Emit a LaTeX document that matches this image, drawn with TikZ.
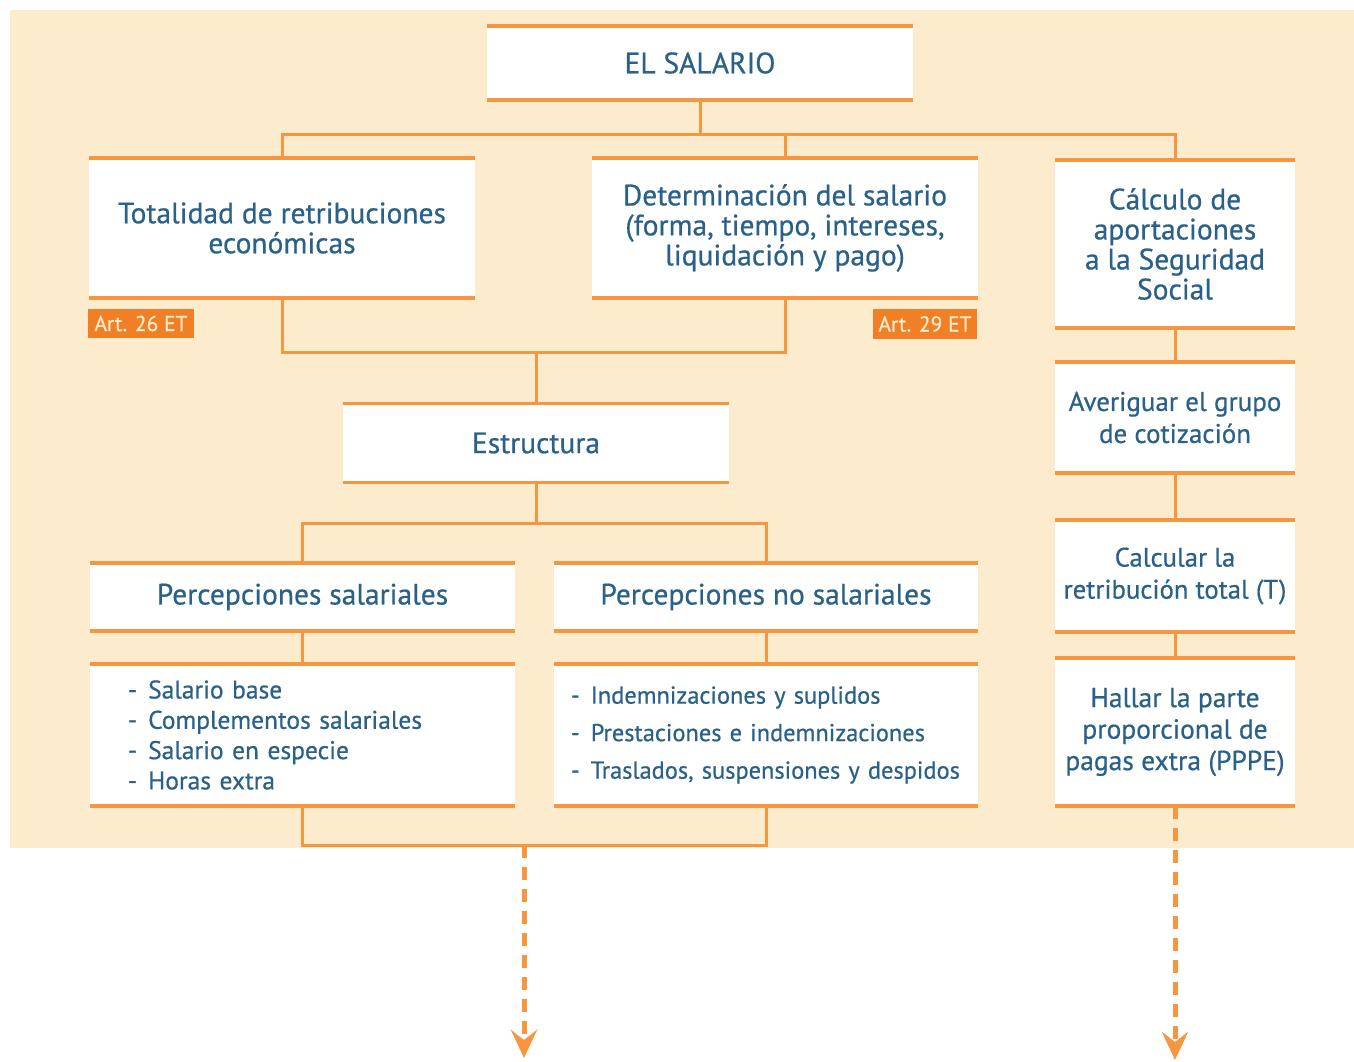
\documentclass[tikz,border=0pt]{standalone}
\usepackage{fontspec}
\setmainfont{PT Sans}[FakeBold=0.6]
\usetikzlibrary{arrows.meta}
\definecolor{bgc}{HTML}{FDEBCD}
\definecolor{org}{HTML}{F7963F}
\definecolor{lblc}{HTML}{F07F25}
\definecolor{txt}{HTML}{2A6189}
\begin{document}
\begin{tikzpicture}[x=1pt,y=-1pt,
  bx/.style={fill=white,inner sep=0pt,align=center,text=txt,font=\fontsize{29.5}{30}\selectfont},
  lst/.style={fill=white,inner ysep=0pt,align=left,text=txt},
  lbl/.style={fill=lblc,text=bgc,inner sep=0pt,font=\fontsize{21.5}{22}\selectfont},
  conn/.style={draw=org,line width=3pt},
  bline/.style={draw=org,line width=3.5pt},
  darr/.style={draw=org,line width=5pt,dash pattern=on 13pt off 9pt,-{Stealth[length=28pt,width=26pt,inset=10pt]}}]
\useasboundingbox (0,0) rectangle (1354,1062);
\fill[bgc] (10,10) rectangle (1354,848);
% nodes
\node[bx,minimum width=426pt,minimum height=74pt] (sal) at (700,63) {EL SALARIO};
\node[bx,minimum width=386pt,minimum height=140pt] (tot) at (282,228) {Totalidad de retribuciones\\económicas};
\node[bx,minimum width=386pt,minimum height=140pt] (det) at (785,228) {Determinación del salario\\(forma, tiempo, intereses,\\liquidación y pago)};
\node[bx,minimum width=240pt,minimum height=168pt] (cal) at (1175,244) {Cálculo de\\aportaciones\\a la Seguridad\\Social};
\node[lbl,minimum width=106pt,minimum height=29pt] (a26) at (141,323.5) {Art. 26 ET};
\node[lbl,minimum width=104pt,minimum height=30pt] (a29) at (925,324) {Art. 29 ET};
\node[bx,minimum width=386pt,minimum height=79pt] (est) at (536,443) {Estructura};
\node[bx,minimum width=425pt,minimum height=68pt] (ps) at (302.5,597) {Percepciones salariales};
\node[bx,minimum width=424pt,minimum height=68pt] (pns) at (766,597) {Percepciones no salariales};
\node[lst,inner xsep=38pt,text width=349pt,minimum height=142pt,font=\fontsize{25.5}{30.3}\selectfont] (ls) at (302.5,735) {-\hspace{11pt}Salario base\\-\hspace{11pt}Complementos salariales\\-\hspace{11pt}Salario en especie\\-\hspace{11pt}Horas extra};
\node[lst,inner xsep=17pt,text width=390pt,minimum height=142pt,font=\fontsize{24.4}{37.5}\selectfont] (lns) at (766,735) {-\hspace{11pt}Indemnizaciones y suplidos\\-\hspace{11pt}Prestaciones e indemnizaciones\\-\hspace{11pt}Traslados, suspensiones y despidos};
\node[bx,minimum width=240pt,minimum height=111pt,font=\fontsize{27}{32}\selectfont] (ave) at (1175,417.5) {Averiguar el grupo\\de cotización};
\node[bx,minimum width=240pt,minimum height=112pt,font=\fontsize{26.7}{32}\selectfont] (clc) at (1175,576) {Calcular la\\retribución total (T)};
\node[bx,minimum width=240pt,minimum height=148pt,font=\fontsize{27.5}{31.5}\selectfont] (hal) at (1175,732) {Hallar la parte\\proporcional de\\pagas extra (PPPE)};
% box rules
\foreach \n in {sal,tot,det,cal,est,ps,pns,ls,lns,ave,clc,hal}
  \draw[bline] (\n.north west) -- (\n.north east) (\n.south west) -- (\n.south east);
% connectors
\coordinate (j1) at (700,135);
\coordinate (j2) at (536,352);
\coordinate (j3) at (536,523);
\coordinate (j4) at (524,845);
\coordinate (e1) at (524,1058);
\coordinate (e2) at (1175,1060);
\draw[conn] (sal.south) -- (j1);
\draw[conn] (tot.north) |- (j1) -| (cal.north);
\draw[conn] (det.north) -- (det.north |- j1);
\draw[conn] (tot.south) |- (j2) -| (det.south);
\draw[conn] (j2) -- (est.north);
\draw[conn] (est.south) -- (j3);
\draw[conn] (ps.north) |- (j3) -| (pns.north);
\draw[conn] (ps.south) -- (ls.north);
\draw[conn] (pns.south) -- (lns.north);
\draw[conn] (ls.south) |- (j4) -| (lns.south);
\draw[conn] (cal.south) -- (ave.north);
\draw[conn] (ave.south) -- (clc.north);
\draw[conn] (clc.south) -- (hal.north);
\draw[darr] (j4) -- (e1);
\draw[darr] (hal.south) -- (e2);
\end{tikzpicture}
\end{document}
